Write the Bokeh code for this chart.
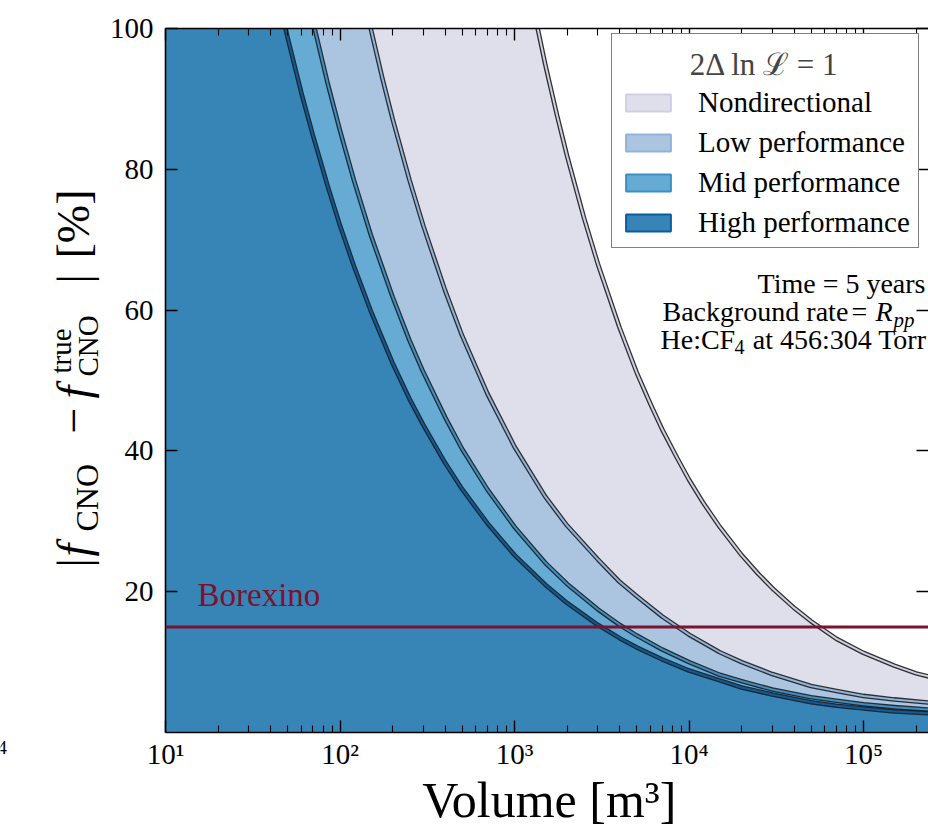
import numpy as np
from bokeh.plotting import figure
from bokeh.layouts import row, column
from bokeh.models import (Range1d, LogAxis, LinearAxis, FixedTicker, Label, Legend,
                          LegendItem, Span, ColumnDataSource, CustomJSTickFormatter)
from bokeh.embed import file_html
from bokeh.resources import INLINE

# ---------------- data ----------------
volume_nd = [1250, 1500, 1750, 2000, 2500, 3000, 4000, 5000, 6000, 7000, 8500, 10000, 12000, 15000,
             20000, 25000, 30000, 40000, 50000, 70000, 100000, 150000, 200000, 250000]
frac_nd = [104.2, 94.9, 87.7, 81.9, 73.1, 66.6, 57.5, 51.2, 46.7, 43.1, 39.1, 35.9, 32.7, 29.2,
           25.2, 22.5, 20.5, 17.7, 15.8, 13.3, 11.3, 9.5, 8.4, 7.8]

volume_low = [140, 150, 175, 200, 250, 300, 400, 500, 700, 1000, 1500, 2000, 3000, 4000, 5000, 7000,
              10000, 15000, 20000, 30000, 50000, 70000, 100000, 150000, 250000]
frac_low = [103.3, 100.0, 92.9, 87.2, 78.5, 72.0, 62.8, 56.4, 48.1, 40.6, 33.5, 29.4, 24.6, 21.4, 19.4, 16.5,
            13.9, 11.4, 10.0, 8.3, 6.6, 5.9, 5.2, 4.7, 4.2]

volume_mid = [65, 70, 85, 100, 120, 150, 200, 250, 300, 400, 500, 700, 1000, 1500, 2000, 3000, 4000, 5000,
              7000, 10000, 15000, 20000, 30000, 50000, 70000, 100000, 150000, 250000]
frac_mid = [104.5, 101.0, 92.2, 85.5, 78.5, 70.7, 61.9, 55.7, 51.2, 44.8, 40.3, 34.5, 29.2, 24.1, 21.1, 17.5,
            15.3, 13.8, 11.8, 10.0, 8.2, 7.3, 6.1, 5.0, 4.5, 4.0, 3.6, 3.2]

volume_high = [45, 50, 60, 70, 85, 100, 120, 150, 200, 250, 300, 400, 500, 700, 1000, 1500, 2000, 3000,
               4000, 5000, 7000, 10000, 15000, 20000, 30000, 50000, 70000, 100000, 150000, 250000]
frac_high = [103.7, 98.8, 90.9, 84.8, 77.6, 72.0, 66.3, 59.9, 52.5, 47.4, 43.7, 38.3, 34.6, 29.7, 25.2, 21.0,
             18.4, 15.3, 13.4, 12.1, 10.4, 8.8, 7.4, 6.4, 5.4, 4.3, 3.8, 3.4, 3.0, 2.7]

series_names = ["Nondirectional", "Low performance", "Mid performance", "High performance"]
decades = [10, 100, 1000, 10000, 100000]
decade_labels = ["10¹", "10²", "10³", "10⁴", "10⁵"]
y_ticks = [20, 40, 60, 80, 100]
borexino_level = 15.0

X_START, X_END = 10, 2.355e5
FONT = "Liberation Serif"
BASE_K = 0.32   # baseline compensation (fraction of font size)

fills = ["#dfdfeb", "#abc5e1", "#66abd3", "#3784b6"]
edges = ["#cfcfe3", "#8fb3da", "#3c8fc5", "#0b5c9e"]
BOREX = "#7b1230"

MAIN_H = 778
# ---------------- main panel ----------------
p = figure(width=823, height=MAIN_H, x_axis_type="log",
           x_range=Range1d(X_START, X_END), y_range=Range1d(0, 100),
           output_backend="svg", toolbar_location=None,
           min_border_left=60, min_border_right=0, min_border_top=28, min_border_bottom=46)
p.background_fill_color = "white"
p.border_fill_color = "white"
p.outline_line_color = None
p.grid.visible = False

volumes = [volume_nd, volume_low, volume_mid, volume_high]
fracs = [frac_nd, frac_low, frac_mid, frac_high]
legend_items = []
for name, V, f, fc, ec in zip(series_names, volumes, fracs, fills, edges):
    src = ColumnDataSource(dict(x=[X_START] + V, top=[f[0]] + f))
    p.varea(x="x", y1=0, y2="top", source=src, fill_color=fc)
    p.line(V, f, line_color="#1c1c1c", line_width=4.6, line_alpha=0.9, line_join="round")
    p.line(V, f, line_color=ec, line_width=2.0, line_join="round")
    r = p.quad(left=V[:1], right=V[:1], top=f[:1], bottom=f[:1],
               fill_color=fc, line_color=ec, line_width=2, visible=False)
    legend_items.append(LegendItem(label=name, renderers=[r]))

# Borexino
p.add_layout(Span(location=borexino_level, dimension="width", line_color=BOREX, line_width=3))


def flabel(text, cx, cy, size, align="left", style="normal", color="black"):
    """Label placed by canvas pixel (frame left = 165, frame bottom = 732)."""
    p.add_layout(Label(x=cx - 165, y=732 - cy + BASE_K * size, x_units="screen", y_units="screen",
                       text=text, text_align=align, text_baseline="alphabetic",
                       text_font_style=style, text_font=FONT, text_font_size=f"{size}px",
                       text_color=color, level="overlay"))


flabel("Borexino", 197, 605, 33, color=BOREX)

# axes
minor_x = [m * d for d in decades for m in range(2, 10)]
xt = FixedTicker(ticks=decades, minor_ticks=minor_x)
yt = FixedTicker(ticks=y_ticks, minor_ticks=[])

xax = p.xaxis[0]
xax.ticker = xt
xax.formatter = CustomJSTickFormatter(args=dict(decs=decades, labs=decade_labels), code="""
    for (let i = 0; i < decs.length; i++) {
        if (Math.abs(Math.log10(decs[i]) - Math.log10(tick)) < 1e-6) { return labs[i] }
    }
    return ''
""")
xax.major_label_text_font = FONT
xax.major_label_text_font_size = "29px"
xax.major_label_text_color = "black"
xax.major_label_standoff = 5

top_ax = LogAxis(ticker=xt, formatter=CustomJSTickFormatter(code="return ''"))
p.add_layout(top_ax, "above")
top_ax.major_label_standoff = 0
for ax in [xax, top_ax]:
    ax.major_tick_in = 12
    ax.major_tick_out = 0
    ax.minor_tick_in = 7
    ax.minor_tick_out = 0
    ax.axis_line_width = 1.6
    ax.axis_line_color = "black"
    ax.major_tick_line_width = 1.4
    ax.minor_tick_line_width = 1.1

yax = p.yaxis[0]
yax.ticker = yt
right_ax = LinearAxis(ticker=yt, formatter=CustomJSTickFormatter(code="return ''"))
p.add_layout(right_ax, "right")
for ax in [yax, right_ax]:
    ax.major_tick_in = 12
    ax.major_tick_out = 0
    ax.minor_tick_line_color = None
    ax.major_tick_line_width = 1.4
    ax.axis_line_width = 1.6
    ax.axis_line_color = "black"
right_ax.axis_line_color = None
right_ax.major_label_standoff = 0
yax.major_label_standoff = 12
yax.major_label_text_font = FONT
yax.major_label_text_font_size = "29px"
yax.major_label_text_color = "black"

# legend (title indented with em spaces so that it sits centred)
legend = Legend(items=legend_items, location=(446, 484),
                title="\u2003\u2003 2Δ ln ℒ = 1", title_text_font=FONT,
                title_text_font_size="31px", title_text_font_style="normal", title_standoff=2,
                label_text_font=FONT, label_text_font_size="29px", label_text_color="black",
                glyph_width=56, glyph_height=21, label_standoff=22, spacing=7,
                padding=8, margin=0, border_line_color="black", border_line_width=1.2,
                background_fill_color="white", background_fill_alpha=1.0)
p.add_layout(legend)

# info text
flabel("Time = 5 years", 925, 292, 28, align="right")
flabel("Background rate", 662, 320, 28)
flabel("=", 851, 320, 28)
flabel("R", 875, 320, 28, style="italic")
flabel("pp", 893, 326, 21, style="italic")
flabel("He:CF", 660, 348, 28)
flabel("4", 734, 353, 20)
flabel("at 456:304 Torr", 926, 348, 28, align="right")

# ---------------- left strip: y-axis label ----------------
left = figure(width=105, height=830, x_range=Range1d(0, 105), y_range=Range1d(830, 0),
              output_backend="svg", toolbar_location=None, x_axis_location=None,
              y_axis_location=None, min_border=0)
left.outline_line_color = None
left.grid.visible = False
left.background_fill_color = "white"
left.border_fill_color = "white"

# (text, canvas y where the piece starts, canvas x of its baseline, size, style)
ylab = [
    ("|", 567, 88, 46, "normal"),
    ("f", 556, 88, 46, "italic"),
    ("CNO", 531, 97, 32, "normal"),
    ("−", 433, 88, 46, "normal"),
    ("f", 398, 88, 46, "italic"),
    ("true", 373, 70, 29, "normal"),
    ("CNO", 376, 97, 29, "normal"),
    ("|", 283, 88, 46, "normal"),
    ("[%]", 258, 88, 46, "normal"),
]
for txt, cy, cx, sz, st in ylab:
    left.add_layout(Label(x=cx - BASE_K * sz, y=cy, text=txt, angle=np.pi / 2, text_align="left",
                          text_baseline="alphabetic", text_font=FONT, text_font_size=f"{sz}px",
                          text_font_style=st, text_color="black"))
# stray fragment of the neighbouring panel's tick label
left.add_layout(Label(x=-3, y=753 - BASE_K * 19, text="4", text_font=FONT, text_font_size="19px",
                      text_baseline="alphabetic", text_color="black"))

# ---------------- bottom strip: x-axis label ----------------
BOT_H = 830 - MAIN_H
bottom = figure(width=823, height=BOT_H, x_range=Range1d(0, 823), y_range=Range1d(0, BOT_H),
                output_backend="svg", toolbar_location=None, x_axis_location=None,
                y_axis_location=None, min_border=0)
bottom.outline_line_color = None
bottom.grid.visible = False
bottom.background_fill_color = "white"
bottom.border_fill_color = "white"
bottom.add_layout(Label(x=414, y=(830 - 814) + 0.29 * 50, text="Volume [m³]", text_align="center",
                        text_baseline="alphabetic", text_font=FONT, text_font_size="50px",
                        text_color="black"))

layout = row(left, column(p, bottom, spacing=0), spacing=0)
open("out.html", "w").write(file_html(layout, INLINE))
